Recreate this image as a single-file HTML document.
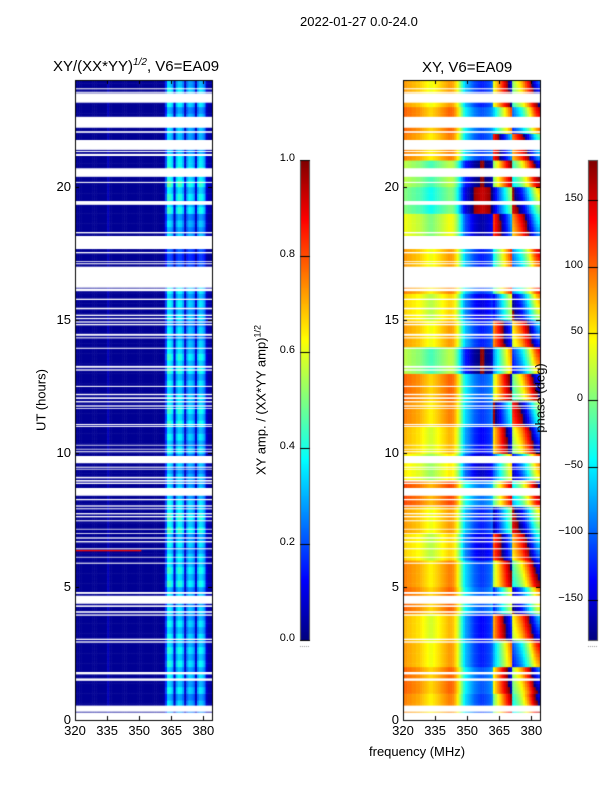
<!DOCTYPE html>
<html><head><meta charset="utf-8">
<style>
body{margin:0;background:#fff;font-family:"Liberation Sans","DejaVu Sans",sans-serif;}
#wrap{position:relative;width:600px;height:800px;overflow:hidden;background:#fff;}
canvas{position:absolute;left:0;top:0;}
.t{position:absolute;color:#000;white-space:nowrap;}
</style></head><body>
<div id="wrap">
<canvas id="cv" width="600" height="800"></canvas>
<div class="t" style="left:300px;top:14px;font-size:13px;">2022-01-27 0.0-24.0</div>
<div class="t" style="left:53px;top:58px;font-size:15px;">XY/(XX*YY)<span style="font-size:10px;font-style:italic;position:relative;top:-6px">1/2</span>, V6=EA09</div>
<div class="t" style="left:422px;top:59px;font-size:15px;">XY, V6=EA09</div>
<div class="t" style="left:41px;top:400px;font-size:13px;transform:translate(-50%,-50%) rotate(-90deg);">UT (hours)</div>
<div class="t" style="left:261px;top:400px;font-size:13px;transform:translate(-50%,-50%) rotate(-90deg);">XY amp. / (XX*YY amp)<span style="font-size:9px;position:relative;top:-5px">1/2</span></div>
<div class="t" style="left:540px;top:398px;font-size:13px;transform:translate(-50%,-50%) rotate(-90deg);">phase (deg)</div>
<div class="t" style="left:369px;top:744px;font-size:13px;">frequency (MHz)</div>
<div id="labels"></div>
</div>
<script>
// ---- data ----
const hourTicks = [0,5,10,15,20];
const freqTicks = [320,335,350,365,380];
const ampTicks = [0.0,0.2,0.4,0.6,0.8,1.0];
const phaseTicks = [-150,-100,-50,0,50,100,150];
// flagged (blank) time ranges, hours
const gaps = [[23.65,23.69],[23.52,23.56],[23.15,23.50],[22.21,22.62],[22.02,22.08],[21.38,21.75],[21.30,21.34],[21.15,21.23],[20.37,20.69],[20.14,20.18],[19.32,19.46],[18.25,18.30],[17.66,18.15],[17.50,17.55],[17.18,17.21],[17.09,17.13],[16.21,17.00],[16.08,16.18],[15.75,15.80],[15.40,15.46],[15.15,15.20],[15.03,15.08],[14.90,14.95],[14.80,14.85],[14.41,14.48],[14.31,14.35],[13.92,13.96],[13.21,13.28],[13.10,13.15],[12.49,12.53],[12.18,12.23],[12.04,12.10],[11.91,11.96],[11.75,11.80],[11.67,11.70],[11.06,11.10],[10.99,11.03],[10.29,10.32],[10.14,10.17],[10.04,10.08],[9.63,9.90],[9.46,9.50],[9.39,9.42],[9.06,9.12],[8.94,9.00],[8.85,8.90],[8.41,8.70],[8.24,8.29],[8.00,8.05],[7.90,7.94],[7.71,7.76],[7.60,7.65],[7.45,7.49],[7.14,7.17],[6.98,7.01],[6.80,6.85],[6.66,6.71],[6.40,6.44],[6.09,6.12],[5.86,5.90],[4.73,4.80],[4.36,4.66],[4.24,4.30],[4.02,4.08],[3.91,3.96],[3.00,3.05],[2.90,2.95],[1.71,1.80],[1.47,1.56],[0.31,0.54],[0.00,0.28]];
// amplitude per 1-MHz channel (320..384)
const ampProfile = [0.02,0.02,0.02,0.02,0.02,0.02,0.02,0.02,0.02,0.02,0.02,0.02,0.02,0.02,0.02,0.06,0.02,0.02,0.02,0.02,0.02,0.02,0.02,0.02,0.02,0.02,0.02,0.02,0.02,0.02,0.02,0.02,0.02,0.02,0.02,0.02,0.02,0.02,0.02,0.02,0.02,0.03,0.20,0.40,0.38,0.33,0.08,0.32,0.38,0.36,0.30,0.08,0.28,0.34,0.32,0.28,0.08,0.30,0.36,0.34,0.28,0.08,0.04,0.04];
// amplitude scaling per UT hour (0..23)
const ampHour = [0.9,1.0,1.05,1.0,0.95,1.1,1.0,1.15,1.0,0.9,1.0,1.1,1.0,1.1,0.95,1.0,1.0,0.6,0.9,1.1,1.2,1.0,0.9,1.0];
// phase per channel, degrees
const phaseProfile = [80,80,75,75,70,70,65,65,60,55,50,45,40,40,45,50,55,60,65,70,75,80,80,75,60,40,10,-20,-50,-70,-80,-90,-100,-110,-115,-120,-125,-125,-120,-115,-110,-100,-70,-40,-10,20,50,80,110,140,170,-170,-150,-130,-110,-90,-60,-30,0,40,80,120,150,170];
// phase shift per UT hour (0..23), low-freq and high-freq parts
const phaseHourLow = [10,20,0,-10,20,10,-20,0,30,-30,-10,10,20,-60,0,-20,10,0,-40,-80,-60,10,20,0];
const phaseHourHigh = [40,90,-30,120,-80,60,150,-120,30,-60,100,-150,70,-40,130,-90,20,0,160,-110,50,170,-20,80];
// ---- axes ----
const T0=80,T1=720;
function yH(h){return T1-(h/24)*(T1-T0);}
const AL=75, PL=403, PW=137, MHZ=32.1/15;
function xF(left,f){return left+(f-320)*MHZ;}
function jet(v){v=Math.max(0,Math.min(1,v));
 const r=Math.max(0,Math.min(1,1.5-Math.abs(4*v-3))),g=Math.max(0,Math.min(1,1.5-Math.abs(4*v-2))),b=Math.max(0,Math.min(1,1.5-Math.abs(4*v-1)));
 return 'rgb('+Math.round(r*255)+','+Math.round(g*255)+','+Math.round(b*255)+')';}
function wrap(p){while(p>180)p-=360;while(p<-180)p+=360;return p;}
const cv=document.getElementById('cv'),ctx=cv.getContext('2d');
const dt=0.125, nCh=ampProfile.length;
for(let t=0;t<24;t+=dt){
  const hb=Math.floor(t);
  const y0=yH(t+dt), y1=yH(t);
  for(let i=0;i<nCh;i++){
    const f0=320+i, f1=321+i;
    const stripe=((Math.floor(t/dt))%4<2)?1:0.85;
    const a=ampProfile[i]*(i>=42?ampHour[hb]*stripe:1);
    ctx.fillStyle=jet(a);
    ctx.fillRect(xF(AL,f0),y0,xF(AL,f1)-xF(AL,f0)+0.5,y1-y0+0.5);
    let p;
    if(i>=42){p=phaseProfile[i]*0.6+phaseHourHigh[hb]+(t-hb)*((i-42)*4);}
    else {p=phaseProfile[i]+phaseHourLow[hb];}
    ctx.fillStyle=jet((wrap(p)+180)/360);
    ctx.fillRect(xF(PL,f0),y0,xF(PL,f1)-xF(PL,f0)+0.5,y1-y0+0.5);
  }
}
// red flagged row in amp panel
ctx.fillStyle=jet(0.9);ctx.fillRect(xF(AL,320),yH(6.38),xF(AL,351)-AL,1.5);
ctx.fillStyle='#fff';
gaps.forEach(g=>{const a=yH(g[1]),b=yH(g[0]);ctx.fillRect(AL,a,PW,b-a);ctx.fillRect(PL,a,PW,b-a);});
// frames, ticks
ctx.strokeStyle='#000';ctx.lineWidth=1;
const lab=document.getElementById('labels');
function addLabel(txt,x,y,align,name){const d=document.createElement('div');d.className='t';d.textContent=txt;
 d.style.fontSize='13px';d.style.top=(y-8)+'px';
 if(align==='r'){d.style.right=(600-x)+'px';}else if(align==='c'){d.style.left=x+'px';d.style.transform='translateX(-50%)';}else d.style.left=x+'px';
 
 
 lab.appendChild(d);return d;}
[AL,PL].forEach((L,k)=>{
  ctx.strokeRect(L+0.5,T0+0.5,PW,T1-T0);
  hourTicks.forEach(h=>{const y=Math.round(yH(h))+0.5;ctx.beginPath();ctx.moveTo(L,y);ctx.lineTo(L+4,y);ctx.moveTo(L+PW,y);ctx.lineTo(L+PW-4,y);ctx.stroke();
    addLabel(String(h),L-4,yH(h),'r',(k?'phase':'amp')+'-y-tick-'+h);});
  freqTicks.forEach(f=>{const x=Math.round(xF(L,f))+0.5;ctx.beginPath();ctx.moveTo(x,T1);ctx.lineTo(x,T1-4);ctx.moveTo(x,T0);ctx.lineTo(x,T0+4);ctx.stroke();
    addLabel(String(f),xF(L,f),T1+11,'c',(k?'phase':'amp')+'-x-tick-'+f);});
});
// colorbars
const CT=160,CB=640;
[[300,ampTicks,0,1,'amp'],[588,phaseTicks,-180,180,'phase']].forEach(([x,ticks,lo,hi,nm])=>{
  for(let y=CT;y<CB;y++){ctx.fillStyle=jet((CB-y-0.5)/(CB-CT));ctx.fillRect(x,y,10,1);}
  ctx.strokeStyle='#555';ctx.strokeRect(x+0.5,CT+0.5,9,CB-CT);ctx.strokeStyle='#000';
  ticks.forEach(v=>{const y=CB-(v-lo)/(hi-lo)*(CB-CT);ctx.beginPath();ctx.moveTo(x,Math.round(y)+0.5);ctx.lineTo(x+10,Math.round(y)+0.5);ctx.stroke();
    const d=addLabel(nm==='amp'?v.toFixed(1):(v<0?'\u2212'+(-v):String(v)),x-5,y,'r',nm+'-colorbar-tick-'+v);d.style.fontSize='11px';});
  ctx.fillStyle='#999';for(let i=0;i<5;i++)ctx.fillRect(x+i*2,CB+6,1,1);
});
</script>
</body></html>
